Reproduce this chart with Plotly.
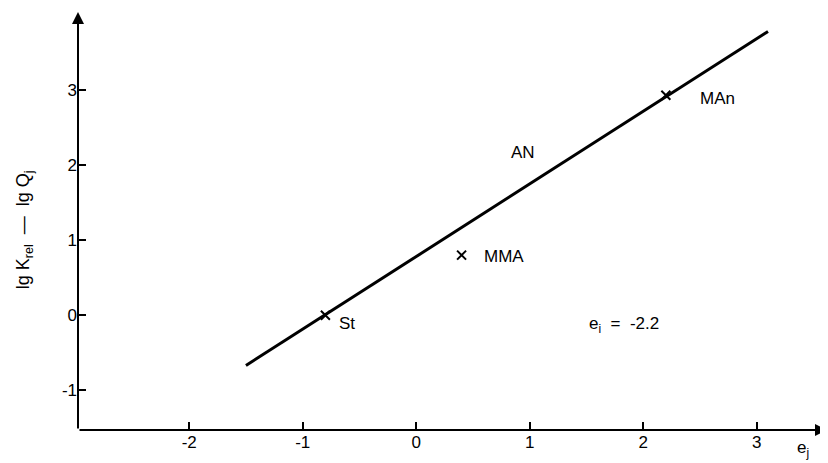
import plotly.graph_objects as go

# Data
monomers = ["St", "MMA", "MAn"]
e_j = [-0.8, 0.4, 2.2]
lgK_minus_lgQ = [0.0, 0.8, 2.93]

line_x = [-1.5, 3.1]
line_y = [-0.67, 3.78]

an_label_x = 0.94
an_label_y = 2.17

x_ticks = [-2, -1, 0, 1, 2, 3]
y_ticks = [-1, 0, 1, 2, 3]

x_range = [-2.98, 3.62]
y_range = [-1.53, 4.04]

font_family = "Liberation Sans, Arial, sans-serif"

fig = go.Figure()

fig.add_trace(go.Scatter(
    x=line_x, y=line_y, mode="lines",
    line=dict(color="black", width=3), showlegend=False, hoverinfo="skip"))

fig.add_trace(go.Scatter(
    x=e_j, y=lgK_minus_lgQ, mode="markers",
    marker=dict(symbol="x-thin", size=9, line=dict(color="black", width=2)),
    showlegend=False, cliponaxis=False))

annotations = []
# point labels
label_offsets = {"St": (22, 8), "MMA": (42, 1), "MAn": (52, 3)}
for name, xv, yv in zip(monomers, e_j, lgK_minus_lgQ):
    dx, dy = label_offsets[name]
    annotations.append(dict(x=xv, y=yv, xref="x", yref="y", text=name,
                            showarrow=False, xshift=dx, yshift=-dy,
                            font=dict(size=17, color="black", family=font_family)))
annotations.append(dict(x=an_label_x, y=an_label_y, xref="x", yref="y", text="AN",
                        showarrow=False,
                        font=dict(size=17, color="black", family=font_family)))
annotations.append(dict(x=1.83, y=-0.13, xref="x", yref="y",
                        text="e<sub><span style='color:black'>i</span></sub>  =  -2.2",
                        showarrow=False, xanchor="center",
                        font=dict(size=17, color="black", family=font_family)))
# axis arrows
annotations.append(dict(x=x_range[1], y=y_range[0], ax=x_range[0], ay=y_range[0],
                        xref="x", yref="y", axref="x", ayref="y", text="",
                        showarrow=True, arrowhead=2, arrowsize=1.2, arrowwidth=2,
                        arrowcolor="black"))
annotations.append(dict(x=x_range[0], y=y_range[1], ax=x_range[0], ay=y_range[0],
                        xref="x", yref="y", axref="x", ayref="y", text="",
                        showarrow=True, arrowhead=2, arrowsize=1.2, arrowwidth=2,
                        arrowcolor="black"))
# axis titles
annotations.append(dict(x=0.968, y=-0.045, xref="paper", yref="paper",
                        text="e<sub>j</sub>",
                        showarrow=False, xanchor="center", yanchor="middle",
                        font=dict(size=17, color="black", family=font_family)))
annotations.append(dict(x=-0.072, y=0.478, xref="paper", yref="paper",
                        text="lg K<sub>rel</sub>  \u2014  lg Q<sub>j</sub>",
                        textangle=-90, showarrow=False,
                        xanchor="center", yanchor="middle",
                        font=dict(size=18, color="black", family=font_family)))

# The page body has an 8px margin; margins compensate so the plot area
# lands where the reference has it.
fig.update_layout(
    width=828, height=463,
    margin=dict(l=70, r=9, t=4, b=41),
    paper_bgcolor="white", plot_bgcolor="white",
    annotations=annotations,
    xaxis=dict(range=x_range, tickvals=x_ticks, ticktext=[str(v) for v in x_ticks],
               ticks="inside", ticklen=8, tickwidth=1.5, tickcolor="black",
               showgrid=False, zeroline=False, showline=False, automargin=False,
               tickfont=dict(size=17, color="black", family=font_family)),
    yaxis=dict(range=y_range, tickvals=y_ticks, ticktext=[str(v) for v in y_ticks],
               ticks="inside", ticklen=8, tickwidth=1.5, tickcolor="black",
               showgrid=False, zeroline=False, showline=False, automargin=False,
               tickfont=dict(size=17, color="black", family=font_family)),
)

fig.write_html("out.html")
